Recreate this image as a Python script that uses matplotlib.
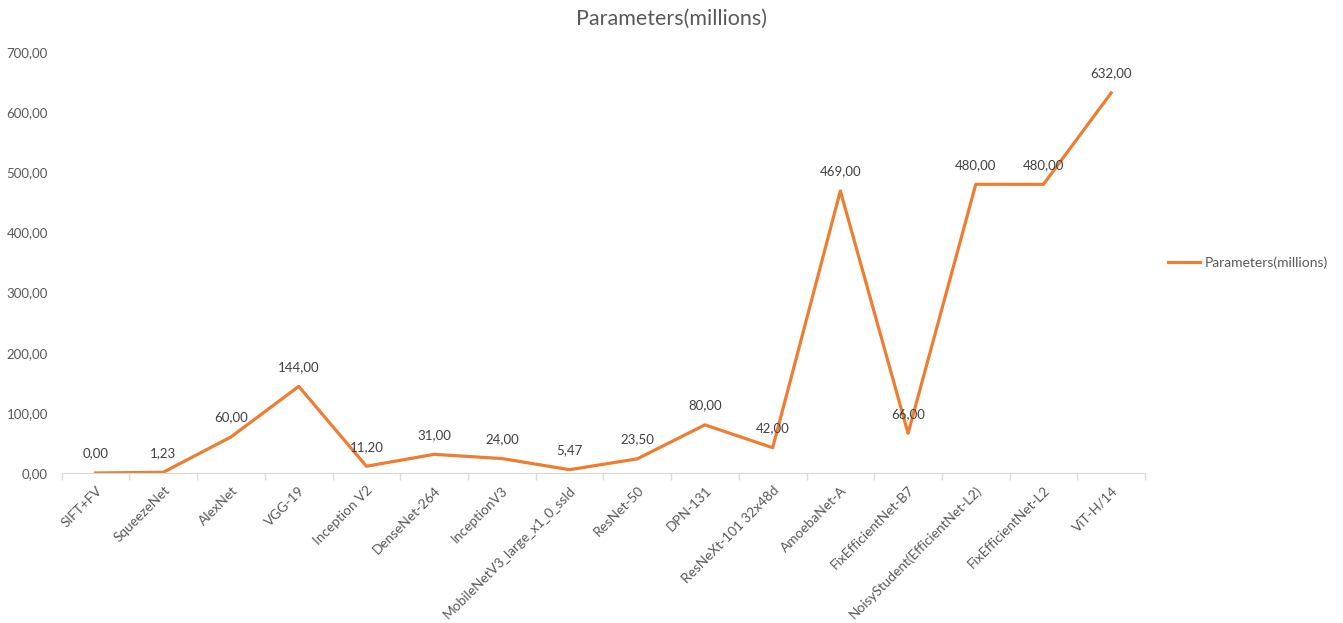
import numpy as np
import matplotlib
matplotlib.use("Agg")
import matplotlib.pyplot as plt

plt.rcParams['font.family'] = ['Lato', 'DejaVu Sans']

models = ["SIFT+FV", "SqueezeNet", "AlexNet", "VGG-19", "Inception V2",
          "DenseNet-264", "InceptionV3", "MobileNetV3_large_x1_0_ssld",
          "ResNet-50", "DPN-131", "ResNeXt-101 32x48d", "AmoebaNet-A",
          "FixEfficientNet-B7", "NoisyStudent(EfficientNet-L2)",
          "FixEfficientNet-L2", "ViT-H/14"]
params = [0.00, 1.23, 60.00, 144.00, 11.20, 31.00, 24.00, 5.47,
          23.50, 80.00, 42.00, 469.00, 66.00, 480.00, 480.00, 632.00]
yticks = [0, 100, 200, 300, 400, 500, 600, 700]

txt = '#595959'
orange = '#ED7D31'

fig = plt.figure(figsize=(13.43, 6.23), dpi=100)
ax = fig.add_axes([0.046, 0.2408, 0.8066, 0.6757])

x = np.arange(len(models))
ax.plot(x, params, color=orange, lw=2.3, solid_joinstyle='round',
        label='Parameters(millions)')
for xi, v in zip(x, params):
    ax.annotate(f"{v:.2f}".replace('.', ','), (xi, v), xytext=(0, 14),
                textcoords='offset points', ha='center', va='center',
                fontsize=9.5, color='#404040')

ax.set_xlim(-0.5, len(models) - 0.5)
ax.set_ylim(0, 700)
ax.set_yticks(yticks)
ax.set_yticklabels([f"{t:.2f}".replace('.', ',') for t in yticks])
ax.set_xticks(x)
ax.set_xticklabels(models, rotation=45, ha='right', va='top', rotation_mode='anchor')
ax.set_xticks(np.arange(-0.5, len(models)), minor=True)
ax.tick_params(axis='x', which='major', length=0, pad=8, labelsize=9.8, labelcolor=txt)
ax.tick_params(axis='x', which='minor', length=5, color='#D9D9D9', width=1)
ax.tick_params(axis='y', length=0, pad=10, labelsize=9.5, labelcolor=txt)
for s in ['top', 'right', 'left']:
    ax.spines[s].set_visible(False)
ax.spines['bottom'].set_color('#D9D9D9')

fig.suptitle('Parameters(millions)', x=0.5, y=0.985, fontsize=15.5, color=txt)
ax.legend(loc='center left', bbox_to_anchor=(1.01, 0.5), frameon=False,
          fontsize=10, labelcolor=txt, handlelength=2.3, handletextpad=0.3)

fig.savefig('out.png', dpi=100)
